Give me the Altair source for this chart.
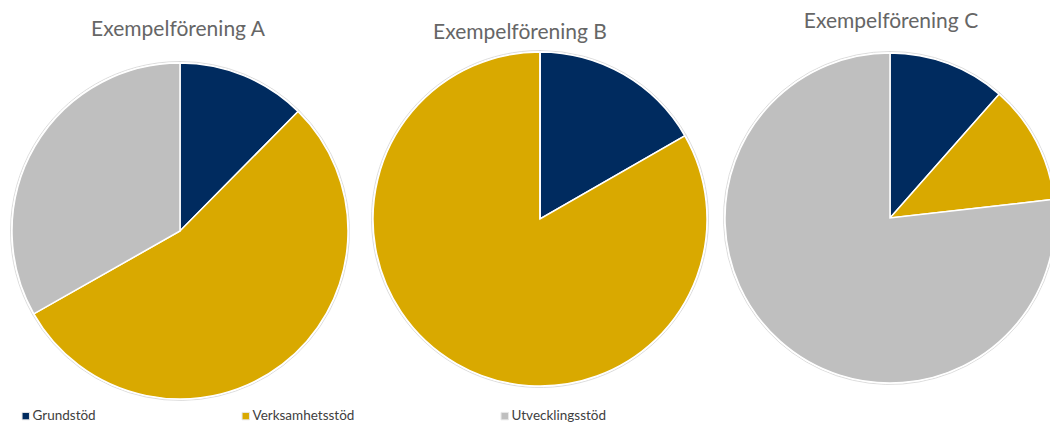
import altair as alt
import pandas as pd

groups = ["Exempelförening A", "Exempelförening B", "Exempelförening C"]
categories = ["Grundstöd", "Verksamhetsstöd", "Utvecklingsstöd"]
colors = ["#002B5F", "#D9A900", "#BFBFBF"]
values_A = [12.4, 54.4, 33.2]
values_B = [16.7, 83.3, 0.0]
values_C = [11.5, 11.7, 76.8]

rows = []
for g, vals in zip(groups, [values_A, values_B, values_C]):
    for i, (c, v) in enumerate(zip(categories, vals)):
        rows.append({"group": g, "category": c, "value": v, "order": i})
df = pd.DataFrame(rows)

base = alt.Chart(df)

# pie layout (center x, center y, radius) in chart coordinates, and title positions
layout = [
    (172, 223, 168, 170, 22),
    (532, 211, 167, 512, 25),
    (882, 210, 165, 883, 14),
]

layers = []
for k, (g, (cx, cy, r, tx, ty)) in enumerate(zip(groups, layout)):
    leg = alt.Legend(orient="none", legendX=11, legendY=401, direction="horizontal",
                     columns=3, columnPadding=143, title=None, symbolType="square",
                     symbolSize=55, symbolStrokeWidth=1, symbolStrokeColor="#e8e8e8",
                     labelFont="Lato", labelFontSize=13.5, labelColor="#404040",
                     labelOffset=0) if k == 0 else None
    c_enc = alt.Color("category:N", scale=alt.Scale(domain=categories, range=colors),
                      sort=categories, legend=leg)
    sub = base.transform_filter(alt.datum.group == g)
    outline = sub.mark_arc(
        radius=r + 1.5, fill="white", stroke="#d4d4d4", strokeWidth=0.8
    ).encode(
        theta=alt.Theta("value:Q", stack=True),
        order=alt.Order("order:Q"),
        x=alt.value(cx),
        y=alt.value(cy),
    )
    arc = sub.mark_arc(
        radius=r, stroke="white", strokeWidth=1.5
    ).encode(
        theta=alt.Theta("value:Q", stack=True),
        color=c_enc,
        order=alt.Order("order:Q"),
        x=alt.value(cx),
        y=alt.value(cy),
    )
    title = alt.Chart(pd.DataFrame({"t": [g]})).mark_text(
        font="Lato", fontSize=21, color="#666666", align="center", baseline="middle"
    ).encode(text="t:N", x=alt.value(tx), y=alt.value(ty))
    layers += [outline, arc, title]

chart = alt.layer(*layers).properties(
    width=1042, height=417, autosize=alt.AutoSizeParams(type="none"), padding=0
).configure_view(stroke=None)

chart.save("out.html", embed_options={"renderer": "svg", "actions": False})
